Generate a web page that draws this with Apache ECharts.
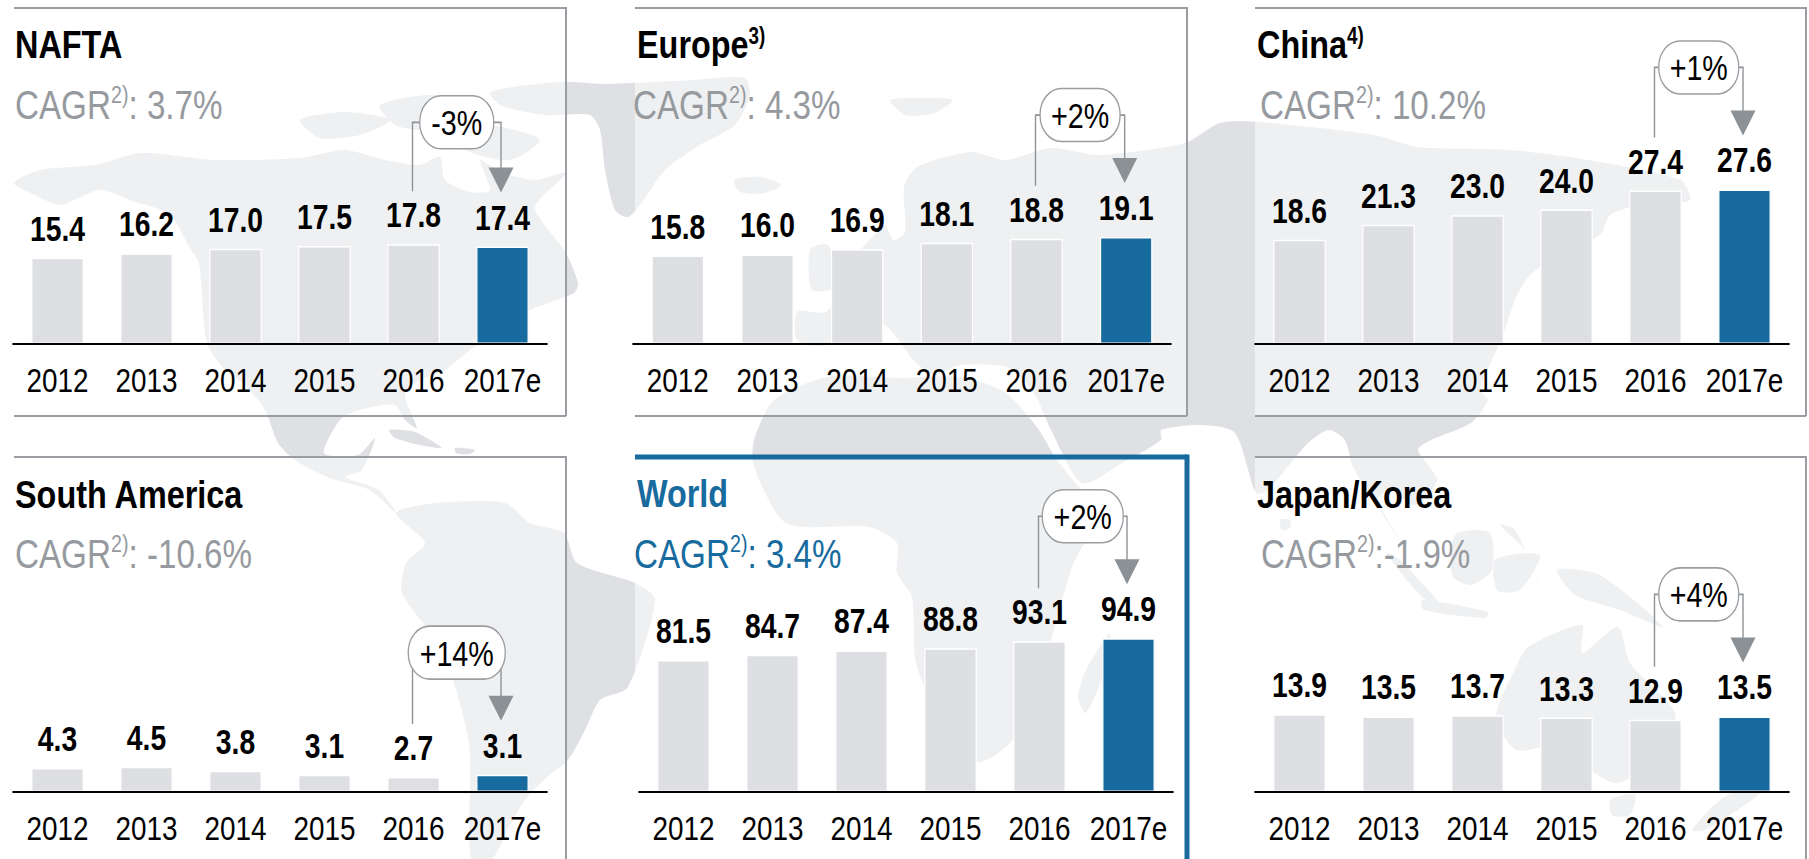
<!DOCTYPE html>
<html>
<head>
<meta charset="utf-8">
<title>Regional production</title>
<style>
  html, body { margin: 0; padding: 0; background: #fff; overflow: hidden; width: 1809px; height: 859px; }
  /* no narrow font installed, so the whole chart is squeezed sideways to get the Arial Narrow look */
  #chart { width: 2206px; height: 859px; transform: scaleX(0.82); transform-origin: 0 0; }
</style>
<script src="https://cdn.jsdelivr.net/npm/echarts@6/dist/echarts.min.js"></script>
</head>
<body>
<div id="chart"></div>
<script>
// data
var years = ['2012', '2013', '2014', '2015', '2016', '2017e']
var naftaValues = [15.4, 16.2, 17.0, 17.5, 17.8, 17.4]
var europeValues = [15.8, 16.0, 16.9, 18.1, 18.8, 19.1]
var chinaValues = [18.6, 21.3, 23.0, 24.0, 27.4, 27.6]
var southAmericaValues = [4.3, 4.5, 3.8, 3.1, 2.7, 3.1]
var worldValues = [81.5, 84.7, 87.4, 88.8, 93.1, 94.9]
var japanKoreaValues = [13.9, 13.5, 13.7, 13.3, 12.9, 13.5]

var S = 0.82 // same as the css scaleX
function sx(x) { return x / S }

var FONT = '"Liberation Sans", Arial, sans-serif'
var GREY_TEXT = '#969a9f'
var BLUE = '#176b9e'
var BAR_GREY = '#dedfe2'
var BORDER = '#9a9ea3'

var panels = [
  { name: 'NAFTA', sup: '', cagr: ': 3.7%', change: '-3%', values: naftaValues, max: 30, left: 13, width: 534, base: 344, height: 168, box: [14, 8, 566, 416], titleX: 15, cagrX: 15, titleY: 24, cagrY: 83, bw: 74 },
  { name: 'Europe', sup: '3)', cagr: ': 4.3%', change: '+2%', values: europeValues, max: 30, left: 633, width: 538, base: 344, height: 168, box: [635, 8, 1187, 416], titleX: 637, cagrX: 633, titleY: 24, cagrY: 83, bw: 80 },
  { name: 'China', sup: '4)', cagr: ': 10.2%', change: '+1%', values: chinaValues, max: 30, left: 1255, width: 534, base: 344, height: 168, box: [1255, 8, 1806, 416], titleX: 1257, cagrX: 1260, titleY: 24, cagrY: 83, bw: 80 },
  { name: 'South America', sup: '', cagr: ': -10.6%', change: '+14%', values: southAmericaValues, max: 30, left: 13, width: 534, base: 792, height: 168, box: [14, 457, 566, 870], titleX: 15, cagrX: 15, titleY: 474, cagrY: 532, bw: 97 },
  { name: 'World', sup: '', cagr: ': 3.4%', change: '+2%', values: worldValues, max: 100, left: 639, width: 534, base: 792, height: 162, box: [635, 457, 1187, 870], titleX: 637, cagrX: 634, titleY: 473, cagrY: 532, bw: 81, accent: true },
  { name: 'Japan/Korea', sup: '', cagr: ':-1.9%', change: '+4%', values: japanKoreaValues, max: 30, left: 1255, width: 534, base: 792, height: 168, box: [1255, 457, 1806, 870], titleX: 1257, cagrX: 1261, titleY: 474, cagrY: 532, bw: 80 }
]

// background world map, hand traced, only a backdrop
var land = [
  [[14,183],[40,170],[95,165],[142,153],[215,160],[300,158],[345,150],[385,160],[420,165],[440,157],[445,180],[470,192],[490,190],[480,160],[500,172],[535,180],[566,173],[535,207],[551,233],[566,253],[578,283],[574,293],[530,310],[500,330],[470,350],[445,370],[420,380],[405,395],[417,428],[405,420],[395,405],[360,410],[340,420],[324,453],[358,455],[375,438],[362,470],[345,477],[379,490],[396,513],[370,490],[330,478],[295,460],[278,443],[265,410],[245,385],[225,370],[207,343],[199,263],[191,250],[170,215],[130,200],[100,190],[60,205],[35,195]],
  [[300,120],[345,112],[390,120],[360,135],[320,138]],
  [[380,105],[440,95],[470,115],[430,130],[395,125]],
  [[450,130],[490,125],[540,140],[510,160],[465,150]],
  [[490,92],[560,82],[605,84],[694,80],[745,78],[750,95],[735,125],[700,145],[665,170],[640,205],[628,217],[615,210],[605,170],[600,130],[590,115],[545,115],[500,105]],
  [[734,180],[760,177],[781,185],[765,193],[740,192]],
  [[890,100],[925,98],[953,100],[935,113],[905,115]],
  [[389,430],[415,432],[442,448],[420,445],[395,438]],
  [[455,448],[475,450],[470,454],[456,453]],
  [[396,513],[438,503],[505,503],[530,523],[564,533],[577,563],[635,583],[655,600],[628,687],[600,700],[585,730],[568,760],[547,777],[525,800],[509,827],[492,859],[471,859],[469,743],[442,650],[402,593],[406,563],[425,543]],
  [[797,340],[797,312],[826,312],[838,290],[825,272],[860,250],[885,225],[893,240],[905,232],[904,187],[917,167],[971,152],[1006,160],[1050,148],[1100,155],[1185,143],[1220,123],[1258,122],[1375,135],[1417,147],[1510,150],[1588,160],[1681,180],[1690,200],[1640,205],[1610,215],[1600,235],[1560,255],[1530,275],[1515,300],[1503,335],[1480,390],[1488,400],[1471,423],[1431,440],[1418,450],[1437,480],[1415,505],[1390,490],[1378,500],[1410,557],[1382,513],[1353,467],[1345,440],[1329,430],[1308,443],[1268,490],[1256,493],[1235,433],[1200,425],[1161,430],[1161,440],[1122,463],[1082,483],[1051,430],[1035,395],[1010,368],[960,365],[935,375],[915,362],[885,325],[850,322],[826,345]],
  [[810,250],[828,245],[838,285],[812,290]],
  [[754,440],[774,400],[828,377],[900,378],[962,377],[1006,393],[1039,430],[1055,457],[1082,490],[1114,510],[1082,547],[1070,573],[1045,660],[1015,737],[980,762],[950,740],[916,663],[912,597],[897,573],[897,543],[869,527],[786,523],[754,467]],
  [[1078,697],[1086,670],[1110,633],[1105,670],[1086,713]],
  [[1280,520],[1290,520],[1290,528],[1282,530]],
  [[1386,553],[1400,560],[1445,610],[1425,600]],
  [[1422,600],[1488,612],[1486,618],[1424,610]],
  [[1455,535],[1490,533],[1492,570],[1470,585],[1452,575]],
  [[1495,560],[1540,555],[1520,590],[1497,590]],
  [[1500,525],[1525,550],[1540,585],[1515,530]],
  [[1557,570],[1600,575],[1663,627],[1620,610],[1575,595]],
  [[1516,667],[1528,647],[1582,625],[1582,653],[1618,627],[1630,663],[1675,713],[1663,753],[1618,783],[1590,770],[1560,745],[1516,750],[1496,717]],
  [[1692,830],[1720,800],[1740,790],[1761,792],[1730,815],[1705,830]],
  [[1610,800],[1635,795],[1630,815],[1612,815]]
]

function hLine(x1, x2, y, color, w) {
  return { type: 'line', z: 1, silent: true, shape: { x1: sx(x1), y1: y, x2: sx(x2), y2: y }, style: { stroke: color, lineWidth: w } }
}

function panelGraphics() {
  var out = []
  land.forEach(function(pts) {
    var scaled = pts.map(function(q) { return [sx(q[0]), q[1]] })
    out.push({ type: 'polygon', z: 0, silent: true, shape: { points: scaled, smooth: 0.25 }, style: { fill: '#dfe0e3' } })
  })
  panels.forEach(function(p) {
    var b = p.box
    var color = p.accent ? BLUE : BORDER
    var w = p.accent ? 5 : 2
    out.push({ type: 'rect', z: 1, silent: true, shape: { x: sx(b[0]), y: b[1], width: sx(b[2] - b[0]), height: b[3] - b[1] }, style: { fill: 'rgba(255,255,255,0.5)' } })
    out.push(hLine(b[0], b[2], b[1], color, w))
    if (b[3] < 859) out.push(hLine(b[0], b[2], b[3], color, w))
    out.push({ type: 'line', z: 1, silent: true, shape: { x1: sx(b[2]), y1: b[1] - w / 2, x2: sx(b[2]), y2: b[3] }, style: { stroke: color, lineWidth: w / S } })
  })
  return out
}

function titles() {
  var out = []
  panels.forEach(function(p) {
    var color = p.accent ? BLUE : '#000'
    out.push({
      left: sx(p.titleX),
      top: p.titleY,
      padding: 0,
      text: p.sup ? p.name + '{s|' + p.sup + '}' : p.name,
      textStyle: {
        fontFamily: FONT, fontSize: 39.5, fontWeight: 'bold', color: color, lineHeight: 40,
        rich: { s: { fontFamily: FONT, fontSize: 23, fontWeight: 'bold', color: color, verticalAlign: 'top', lineHeight: 22 } }
      }
    })
    var c = p.accent ? BLUE : GREY_TEXT
    out.push({
      left: sx(p.cagrX),
      top: p.cagrY,
      padding: 0,
      text: '{t|CAGR}{s|2)}{t|' + p.cagr + '}',
      textStyle: {
        fontWeight: 'normal',
        rich: {
          t: { fontFamily: FONT, fontSize: 40.5, fontWeight: 'normal', color: c, lineHeight: 44 },
          s: { fontFamily: FONT, fontSize: 24, fontWeight: 'normal', color: c, verticalAlign: 'top', lineHeight: 24 }
        }
      }
    })
  })
  return out
}

// the -3% / +2% bracket above the last two bars
function calloutItem(p) {
  return function(params, api) {
    var a = api.coord([4, api.value(1)])
    var b = api.coord([5, api.value(2)])
    var lx = a[0] - sx(1)
    var rx = b[0] - sx(1.5)
    var cy = Math.min(a[1], b[1]) - 122
    var cx = (lx + rx) / 2
    var bottomL = a[1] - 53
    var tip = b[1] - 54
    var stroke = { stroke: '#8f9397', lineWidth: 1.7, fill: null }
    return {
      type: 'group',
      children: [
        { type: 'polyline', shape: { points: [[lx, bottomL], [lx, cy], [cx, cy]] }, style: stroke },
        { type: 'polyline', shape: { points: [[cx, cy], [rx, cy], [rx, tip - 20]] }, style: stroke },
        { type: 'polygon', shape: { points: [[rx - sx(12.5), tip - 25], [rx + sx(12.5), tip - 25], [rx, tip]] }, style: { fill: '#8c9196' } },
        { type: 'rect', shape: { x: cx - sx(p.bw / 2), y: cy - 26.5, width: sx(p.bw), height: 53, r: 26 }, style: { fill: '#fff', stroke: '#9a9da1', lineWidth: 1.6 } },
        { type: 'text', style: { x: cx, y: cy + 1, text: p.change, align: 'center', verticalAlign: 'middle', fill: '#000', font: '35px ' + FONT } }
      ]
    }
  }
}

var grids = []
var xAxes = []
var yAxes = []
var series = []
panels.forEach(function(p, i) {
  grids.push({ left: sx(p.left), width: sx(p.width), top: p.base - p.height, height: p.height })
  xAxes.push({
    gridIndex: i,
    type: 'category',
    data: years,
    z: 4,
    axisTick: { show: false },
    axisLine: { lineStyle: { color: '#000', width: 2 } },
    axisLabel: { interval: 0, margin: 19.5, color: '#000', fontFamily: FONT, fontSize: 34 }
  })
  yAxes.push({ gridIndex: i, type: 'value', min: 0, max: p.max, show: false, splitLine: { show: false } })
  series.push({
    type: 'bar',
    xAxisIndex: i,
    yAxisIndex: i,
    barWidth: sx(52.5),
    z: 3,
    data: p.values.map(function(v, k) {
      return { value: v, itemStyle: { color: k === 5 ? BLUE : BAR_GREY, borderColor: '#fff', borderWidth: 1.5 } }
    }),
    label: {
      show: true,
      position: 'top',
      distance: 11.5,
      color: '#000',
      fontFamily: FONT,
      fontSize: 34.5,
      fontWeight: 'bold',
      formatter: function(o) { return o.value.toFixed(1) }
    }
  })
  series.push({
    type: 'custom',
    xAxisIndex: i,
    yAxisIndex: i,
    z: 5,
    clip: false,
    silent: true,
    renderItem: calloutItem(p),
    data: [[4, p.values[4], p.values[5]]]
  })
})

var chart = echarts.init(document.getElementById('chart'), null, { renderer: 'svg' })
chart.setOption({
  animation: false,
  backgroundColor: '#fff',
  graphic: { elements: panelGraphics() },
  title: titles(),
  grid: grids,
  xAxis: xAxes,
  yAxis: yAxes,
  series: series
})
</script>
</body>
</html>
